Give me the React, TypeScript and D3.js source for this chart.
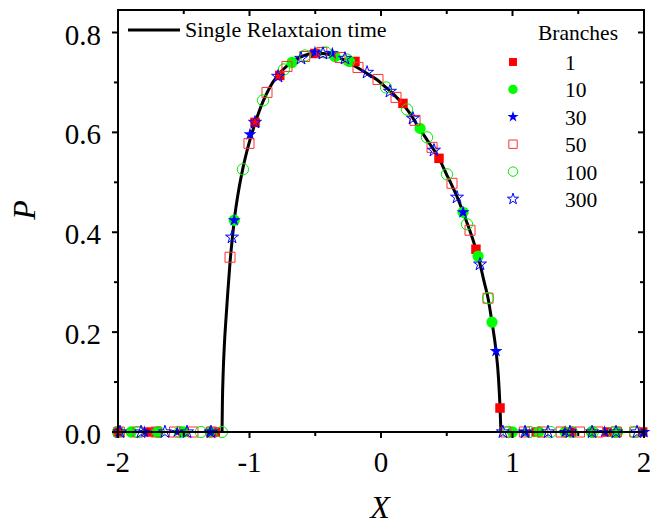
import React from 'react';
import * as d3 from 'd3';

// Single relaxation time curve
const curveX = [-1.209, -1.206, -1.2, -1.19, -1.178, -1.165, -1.148, -1.13, -1.116, -1.085, -1.052, -1.004, -0.958, -0.897, -0.85, -0.791, -0.745, -0.669, -0.608, -0.55, -0.502, -0.44, -0.365, -0.281, -0.2, -0.106, -0.023, 0.038, 0.1, 0.167, 0.22, 0.281, 0.35, 0.441, 0.5, 0.532, 0.58, 0.624, 0.68, 0.722, 0.753, 0.785, 0.814, 0.844, 0.875, 0.893, 0.905, 0.912];
const curveP = [0, 0.06, 0.12, 0.18, 0.23, 0.28, 0.34, 0.39, 0.424, 0.48, 0.526, 0.578, 0.618, 0.662, 0.688, 0.712, 0.726, 0.742, 0.751, 0.757, 0.759, 0.758, 0.754, 0.745, 0.733, 0.718, 0.704, 0.69, 0.675, 0.656, 0.638, 0.612, 0.585, 0.548, 0.515, 0.498, 0.47, 0.44, 0.4, 0.366, 0.336, 0.3, 0.268, 0.22, 0.162, 0.11, 0.05, 0];

// Branches = 1
const b1X = [-2.0, -1.76, -1.5, -1.26, -0.958, -0.77, -0.502, -0.198, 0.167, 0.441, 0.722, 0.905, 1.18, 1.45, 1.72, 1.99];
const b1P = [0, 0, 0, 0, 0.62, 0.714, 0.758, 0.742, 0.658, 0.548, 0.366, 0.048, 0, 0, 0, 0];
// Branches = 10
const b10X = [-1.9, -1.7, -1.5, -1.3, -1.116, -0.677, -0.35, -0.24, 0.297, 0.624, 0.738, 0.844, 1.0, 1.2, 1.4, 1.6, 1.8];
const b10P = [0, 0, 0, 0, 0.424, 0.74, 0.752, 0.742, 0.608, 0.44, 0.352, 0.22, 0, 0, 0, 0, 0];
// Branches = 30
const b30X = [-1.8, -1.55, -1.3, -1.116, -0.996, -0.502, -0.37, 0.624, 0.875, 1.1, 1.4, 1.7, 2.0];
const b30P = [0, 0, 0, 0.424, 0.596, 0.76, 0.758, 0.44, 0.162, 0, 0, 0, 0];
// Branches = 50
const b50X = [-1.99, -1.85, -1.71, -1.57, -1.43, -1.29, -1.148, -1.004, -0.867, -0.715, -0.58, -0.45, -0.312, -0.175, -0.023, 0.114, 0.259, 0.388, 0.54, 0.677, 0.814, 0.95, 1.09, 1.23, 1.37, 1.51, 1.65, 1.79, 1.93];
const b50P = [0, 0, 0, 0, 0, 0, 0.35, 0.578, 0.68, 0.732, 0.752, 0.76, 0.75, 0.73, 0.706, 0.67, 0.624, 0.57, 0.498, 0.404, 0.268, 0, 0, 0, 0, 0, 0, 0, 0];
// Branches = 100
const b100X = [-2.0, -1.85, -1.69, -1.53, -1.37, -1.21, -1.05, -0.897, -0.738, -0.578, -0.42, -0.26, 0.038, 0.198, 0.35, 0.502, 0.654, 0.814, 0.97, 1.13, 1.29, 1.45, 1.61, 1.77, 1.93];
const b100P = [0, 0, 0, 0, 0, 0, 0.526, 0.664, 0.726, 0.754, 0.76, 0.746, 0.69, 0.646, 0.59, 0.516, 0.416, 0.268, 0, 0, 0, 0, 0, 0, 0];
// Branches = 300
const b300X = [-1.985, -1.825, -1.643, -1.475, -1.293, -1.133, -0.958, -0.783, -0.608, -0.441, -0.274, -0.106, 0.068, 0.243, 0.403, 0.578, 0.753, 0.927, 1.095, 1.27, 1.437, 1.605, 1.787, 1.947];
const b300P = [0, 0, 0, 0, 0, 0.39, 0.62, 0.712, 0.748, 0.758, 0.748, 0.72, 0.682, 0.628, 0.564, 0.47, 0.336, 0, 0, 0, 0, 0, 0, 0];

const seriesLabels = ['1', '10', '30', '50', '100', '300'];
const xTickValues = [-2, -1, 0, 1, 2];
const yTickValues = [0, 0.2, 0.4, 0.6, 0.8];

const W = 651, H = 524;
const L = 118, R = 644, T = 10, B = 432;
const FONT = '"Liberation Serif", "Times New Roman", serif';

type Style = { type: d3.SymbolType; size: number; fill: string; stroke: string; sw: number };
const styles: Style[] = [
  { type: d3.symbolSquare, size: 90, fill: '#FF0000', stroke: 'none', sw: 0 },
  { type: d3.symbolCircle, size: 100, fill: '#00FF00', stroke: 'none', sw: 0 },
  { type: d3.symbolStar, size: 52, fill: '#0000FF', stroke: 'none', sw: 0 },
  { type: d3.symbolSquare, size: 100, fill: 'none', stroke: '#FF3030', sw: 1 },
  { type: d3.symbolCircle, size: 100, fill: 'none', stroke: '#00EE00', sw: 1 },
  { type: d3.symbolStar, size: 52, fill: 'none', stroke: '#0000FF', sw: 1 },
];
const legendScale = [0.7, 0.7, 0.75, 0.7, 0.7, 0.75];

export default function App() {
  const x = d3.scaleLinear().domain([-2, 2]).range([L, R]);
  const y = d3.scaleLinear().domain([0, 0.8]).range([B, 32.5]);

  const series = [
    [b1X, b1P], [b10X, b10P], [b30X, b30P], [b50X, b50P], [b100X, b100P], [b300X, b300P],
  ];

  const line = d3.line<number>()
    .x((_, i) => x(curveX[i]))
    .y((d) => y(d))
    .curve(d3.curveMonotoneX);

  const xMinor = d3.range(-2, 2.001, 0.5);
  const yMinor = d3.range(0, 0.8001, 0.1);

  return (
    <svg width={W} height={H} style={{ position: 'absolute', left: 0, top: 0, background: '#fff' }}
      fontFamily={FONT}>
      <rect x={0} y={0} width={W} height={H} fill="#fff" />
      <path d={line(curveP) || ''} fill="none" stroke="#000" strokeWidth={3} />
      {series.map(([xs, ps], si) => {
        const st = styles[si];
        const sym = d3.symbol().type(st.type).size(st.size)();
        return (
          <g key={si}>
            {xs.map((xv, i) => (
              <path key={i} d={sym || ''} transform={`translate(${x(xv)},${y(ps[i])})`}
                fill={st.fill} stroke={st.stroke} strokeWidth={st.sw} />
            ))}
          </g>
        );
      })}
      <rect x={L} y={T} width={R - L} height={B - T} fill="none" stroke="#000" strokeWidth={2} />
      {xMinor.map((v, i) => {
        const major = Math.abs(v - Math.round(v)) < 1e-6;
        const len = major ? 6 : 4;
        return (
          <g key={'xt' + i}>
            <line x1={x(v)} x2={x(v)} y1={B} y2={B + len} stroke="#000" strokeWidth={2} />
            <line x1={x(v)} x2={x(v)} y1={T} y2={T + len} stroke="#000" strokeWidth={2} />
          </g>
        );
      })}
      {yMinor.map((v, i) => {
        const major = i % 2 === 0;
        const len = major ? 6 : 4;
        return (
          <g key={'yt' + i}>
            <line x1={L - len} x2={L} y1={y(v)} y2={y(v)} stroke="#000" strokeWidth={2} />
            <line x1={R - len} x2={R} y1={y(v)} y2={y(v)} stroke="#000" strokeWidth={2} />
          </g>
        );
      })}
      {xTickValues.map((v) => (
        <text key={'xl' + v} x={x(v)} y={472} textAnchor="middle" fontSize={29} fill="#000">
          {v < 0 ? '-' + Math.abs(v) : String(v)}
        </text>
      ))}
      {yTickValues.map((v) => (
        <text key={'yl' + v} x={101} y={y(v) + 12} textAnchor="end" fontSize={29} fill="#000">
          {v.toFixed(1)}
        </text>
      ))}
      <text x={380} y={518} textAnchor="middle" fontSize={32} fontStyle="italic" fill="#000">X</text>
      <text transform="translate(35,210) rotate(-90)" textAnchor="middle" fontSize={32} fontStyle="italic" fill="#000">P</text>
      <line x1={128} x2={180} y1={30} y2={30} stroke="#000" strokeWidth={3} />
      <text x={185} y={37} fontSize={22} fill="#000">Single Relaxtaion time</text>
      <text x={538} y={40} fontSize={21.5} fill="#000">Branches</text>
      {seriesLabels.map((lab, i) => {
        const st = styles[i];
        const sym = d3.symbol().type(st.type).size(st.size * legendScale[i])();
        const cy = 62 + i * 27.4;
        return (
          <g key={'lg' + i}>
            <path d={sym || ''} transform={`translate(513,${cy})`} fill={st.fill} stroke={st.stroke} strokeWidth={st.sw} />
            <text x={565} y={cy + 8} fontSize={21.5} fill="#000">{lab}</text>
          </g>
        );
      })}
    </svg>
  );
}
